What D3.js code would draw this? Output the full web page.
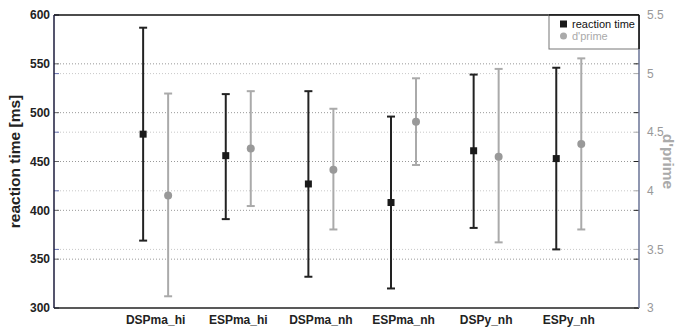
<!DOCTYPE html>
<html>
<head>
<meta charset="utf-8">
<script src="https://cdn.jsdelivr.net/npm/d3@7"></script>
<style>
  body { margin: 0; background: #fff; }
  text { font-family: "Liberation Sans", Arial, sans-serif; }
</style>
</head>
<body>
<div id="chart"></div>
<script>
var categories = ["DSPma_hi", "ESPma_hi", "DSPma_nh", "ESPma_nh", "DSPy_nh", "ESPy_nh"];
var rtMean = [478, 456, 427, 408, 461, 453];
var rtHigh = [587, 519, 522, 496, 539, 546];
var rtLow  = [369, 391, 332, 320, 382, 360];
var dpMean = [3.96, 4.36, 4.18, 4.59, 4.29, 4.40];
var dpHigh = [4.83, 4.85, 4.70, 4.96, 5.04, 5.13];
var dpLow  = [3.10, 3.87, 3.67, 4.22, 3.56, 3.67];
var rtTicks = [300, 350, 400, 450, 500, 550, 600];
var dpTicks = [3, 3.5, 4, 4.5, 5, 5.5];

var margin = { top: 15, left: 54, bottom: 25, right: 39 };
var width = 678 - margin.left - margin.right;
var height = 333 - margin.top - margin.bottom;

var svg = d3.select("#chart").append("svg")
    .attr("width", 678)
    .attr("height", 333);

var g = svg.append("g")
    .attr("transform", "translate(" + margin.left + "," + margin.top + ")");

var x = d3.scaleLinear().domain([-1.23, 5.85]).range([0, width]);
var yL = d3.scaleLinear().domain([300, 600]).range([height, 0]);
var yR = d3.scaleLinear().domain([3, 5.5]).range([height, 0]);

// grids
g.selectAll(".gridR").data(dpTicks.slice(1, -1)).enter().append("line")
    .attr("x1", 0).attr("x2", width)
    .attr("y1", function(d) { return yR(d); }).attr("y2", function(d) { return yR(d); })
    .attr("stroke", "#c8c8c8").attr("stroke-dasharray", "1,2");
g.selectAll(".gridL").data(rtTicks.slice(1, -1)).enter().append("line")
    .attr("x1", 0).attr("x2", width)
    .attr("y1", function(d) { return yL(d); }).attr("y2", function(d) { return yL(d); })
    .attr("stroke", "#999").attr("stroke-dasharray", "1,2");

// small ticks on the side lines
g.selectAll(".tkL").data(rtTicks).enter().append("line")
    .attr("x1", 0).attr("x2", 5).attr("y1", yL).attr("y2", yL).attr("stroke", "#666");
g.selectAll(".tkL2").data(dpTicks).enter().append("line")
    .attr("x1", 0).attr("x2", 5).attr("y1", yR).attr("y2", yR).attr("stroke", "#6670b0");
g.selectAll(".tkR").data(rtTicks).enter().append("line")
    .attr("x1", width - 5).attr("x2", width).attr("y1", yL).attr("y2", yL).attr("stroke", "#222");
g.selectAll(".tkR2").data(dpTicks).enter().append("line")
    .attr("x1", width - 5).attr("x2", width).attr("y1", yR).attr("y2", yR).attr("stroke", "#aaa");

// frame
g.append("line").attr("x1", 0).attr("x2", width).attr("y1", 0).attr("y2", 0)
    .attr("stroke", "#111").attr("stroke-width", 1.5);
g.append("line").attr("x1", 0).attr("x2", width).attr("y1", height).attr("y2", height)
    .attr("stroke", "#222").attr("stroke-width", 1.5);
g.append("line").attr("x1", 0).attr("x2", 0).attr("y1", 0).attr("y2", height)
    .attr("stroke", "#1c1c3c").attr("stroke-width", 1.5);
g.append("line").attr("x1", width).attr("x2", width).attr("y1", 0).attr("y2", height)
    .attr("stroke", "#6a7396").attr("stroke-width", 1.5);

// tick labels
g.selectAll(".lblL").data(rtTicks).enter().append("text")
    .attr("x", -4).attr("y", yL).attr("dy", "0.35em")
    .attr("text-anchor", "end").attr("font-size", 12).attr("font-weight", "bold")
    .attr("fill", "#222").text(function(d) { return d; });
g.selectAll(".lblR").data(dpTicks).enter().append("text")
    .attr("x", width + 8).attr("y", yR).attr("dy", "0.35em")
    .attr("font-size", 12).attr("fill", "#999").text(function(d) { return d; });
g.selectAll(".lblX").data(categories).enter().append("text")
    .attr("x", function(d, i) { return x(i); }).attr("y", height + 16)
    .attr("text-anchor", "middle").attr("font-size", 12).attr("font-weight", "bold")
    .attr("fill", "#222").text(function(d) { return d; });

// axis titles
svg.append("text")
    .attr("transform", "translate(20," + (margin.top + height / 2) + ") rotate(-90)")
    .attr("text-anchor", "middle").attr("font-size", 15.5).attr("font-weight", "bold")
    .attr("fill", "#222").text("reaction time [ms]");
svg.append("text")
    .attr("transform", "translate(663," + (margin.top + height / 2) + ") rotate(90)")
    .attr("text-anchor", "middle").attr("font-size", 15.5).attr("font-weight", "bold")
    .attr("fill", "#aaa").text("d'prime");

// error bars
var off = 12.5, cap = 4;
function drawBars(cls, mean, lo, hi, y, dx, color) {
    var b = g.selectAll("." + cls).data(categories).enter().append("g");
    b.append("line")
        .attr("x1", function(d, i) { return x(i) + dx; }).attr("x2", function(d, i) { return x(i) + dx; })
        .attr("y1", function(d, i) { return y(lo[i]); }).attr("y2", function(d, i) { return y(hi[i]); })
        .attr("stroke", color).attr("stroke-width", 2);
    [lo, hi].forEach(function(arr) {
        b.append("line")
            .attr("x1", function(d, i) { return x(i) + dx - cap; }).attr("x2", function(d, i) { return x(i) + dx + cap; })
            .attr("y1", function(d, i) { return y(arr[i]); }).attr("y2", function(d, i) { return y(arr[i]); })
            .attr("stroke", color).attr("stroke-width", 2);
    });
    return b;
}
var rtBars = drawBars("rt", rtMean, rtLow, rtHigh, yL, -off, "#222");
rtBars.append("rect")
    .attr("x", function(d, i) { return x(i) - off - 3.5; })
    .attr("y", function(d, i) { return yL(rtMean[i]) - 3.5; })
    .attr("width", 7).attr("height", 7).attr("fill", "#1a1a1a");
var dpBars = drawBars("dp", dpMean, dpLow, dpHigh, yR, off, "#aaa");
dpBars.append("circle")
    .attr("cx", function(d, i) { return x(i) + off; })
    .attr("cy", function(d, i) { return yR(dpMean[i]); })
    .attr("r", 4).attr("fill", "#999");

// legend
var lw = 90, lh = 34;
var lg = g.append("g").attr("transform", "translate(" + (width - lw) + ",0)");
lg.append("rect").attr("width", lw).attr("height", lh)
    .attr("fill", "#fff").attr("stroke", "#777");
g.append("line").attr("x1", width - lw).attr("x2", width).attr("y1", 0).attr("y2", 0)
    .attr("stroke", "#111").attr("stroke-width", 1.5);
g.append("line").attr("x1", width).attr("x2", width).attr("y1", 0).attr("y2", lh)
    .attr("stroke", "#111").attr("stroke-width", 1.5);
lg.append("rect").attr("x", 11).attr("y", 5.5).attr("width", 7).attr("height", 7).attr("fill", "#1a1a1a");
lg.append("text").attr("x", 23).attr("y", 9).attr("dy", "0.35em")
    .attr("font-size", 11).attr("fill", "#111").text("reaction time");
lg.append("circle").attr("cx", 14.5).attr("cy", 21).attr("r", 3.5).attr("fill", "#aaa");
lg.append("text").attr("x", 23).attr("y", 21).attr("dy", "0.35em")
    .attr("font-size", 11).attr("fill", "#aaa").text("d'prime");
</script>
</body>
</html>
